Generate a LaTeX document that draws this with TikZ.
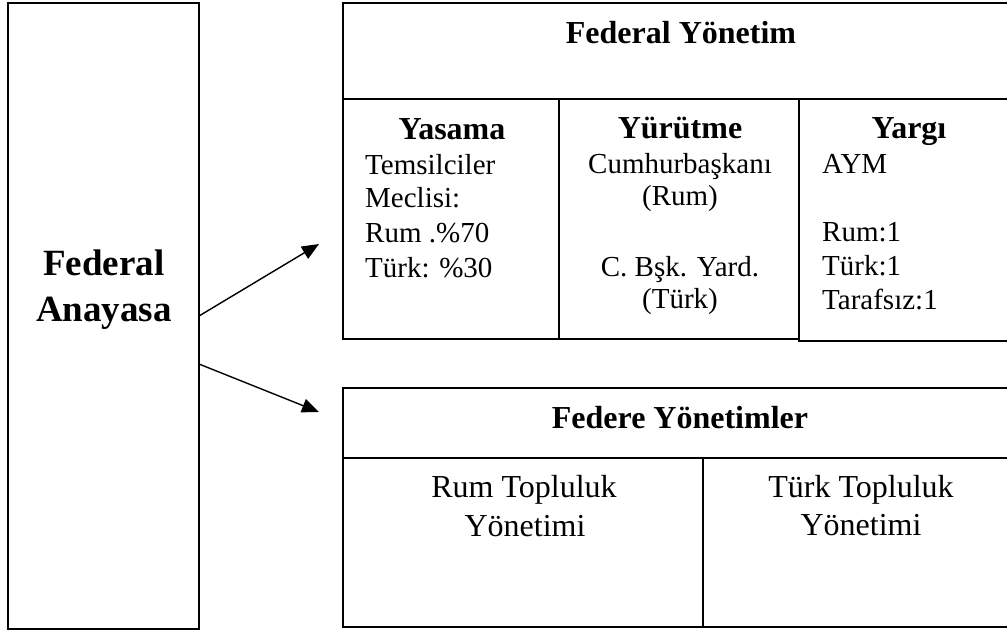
\documentclass[tikz,border=0pt]{standalone}
\usepackage{fontspec}
\setmainfont{Liberation Serif}
\usetikzlibrary{arrows.meta,calc}
\begin{document}
\begin{tikzpicture}[x=1pt,y=-1pt,
 cell/.style={draw, line width=1.8pt, inner sep=0pt, outer sep=0pt, anchor=north west},
 bigb/.style={font=\fontsize{37}{44}\selectfont\bfseries, inner sep=0pt, anchor=base},
 hd/.style={font=\fontsize{32}{38}\selectfont\bfseries, inner sep=0pt, anchor=base},
 tx/.style={font=\fontsize{29}{34}\selectfont, inner sep=0pt, anchor=base west},
 tc/.style={font=\fontsize{29}{34}\selectfont, inner sep=0pt, anchor=base},
 bt/.style={font=\fontsize{32}{38}\selectfont, inner sep=0pt, anchor=base},
 arr/.style={line width=1.4pt, -{Triangle[length=17pt,width=14pt]}}]
\useasboundingbox (0,0) rectangle (1007,632);
\clip (0,0) rectangle (1007,632);

% left box
\node[cell, minimum width=191pt, minimum height=626pt] (lb) at (8,3) {};
\node[bigb] (fa1) at (104,275) {Federal};
\node[bigb] (fa2) at (104,321) {Anayasa};

% federal government
\node[cell, minimum width=676pt, minimum height=96pt] (fy) at (343,3) {};
\node[cell, minimum width=216pt, minimum height=240pt] (ys) at (343,99) {};
\node[cell, minimum width=240pt, minimum height=240pt] (yr) at (559,99) {};
\node[cell, minimum width=220pt, minimum height=242pt] (yg) at (799,99) {};

\node[hd] (fyt) at (681,43) {Federal Yönetim};

\node[hd] (yst) at (452,139) {Yasama};
\node[tx] (ys1) at (365,174) {Temsilciler};
\node[tx] (ys2) at (365,207) {Meclisi:};
\node[tx] (ys3) at (365,242) {Rum .\%70};
\node[tx] (ys4) at (365,277) {Türk: \%30};

\node[hd] (yrt) at (680,138) {Yürütme};
\node[tc] (yr1) at (680,173) {Cumhurbaşkanı};
\node[tc] (yr2) at (680,205) {(Rum)};
\node[tc] (yr3) at (680,276) {C. Bşk. Yard.};
\node[tc] (yr4) at (680,308) {(Türk)};

\node[hd] (ygt) at (909,138) {Yargı};
\node[tx] (yg1) at (822,173) {AYM};
\node[tx] (yg2) at (822,241) {Rum:1};
\node[tx] (yg3) at (822,275) {Türk:1};
\node[tx] (yg4) at (822,309) {Tarafsız:1};

% federated governments
\node[cell, minimum width=676pt, minimum height=70pt] (fd) at (343,388) {};
\node[cell, minimum width=360pt, minimum height=169pt] (rt) at (343,458) {};
\node[cell, minimum width=316pt, minimum height=169pt] (tt) at (703,458) {};

\node[hd] (fdt) at (680,428) {Federe Yönetimler};
\node[bt] (rt1) at (524,497) {Rum Topluluk};
\node[bt] (rt2) at (525,536) {Yönetimi};
\node[bt] (tt1) at (861,497) {Türk Topluluk};
\node[bt] (tt2) at (861,535) {Yönetimi};

% arrows
\coordinate (t1) at (319,244);
\coordinate (s2) at ($(lb.east)+(0,48)$);
\coordinate (t2) at (319,412);
\draw[arr] (lb.east) -- (t1);
\draw[arr] (s2) -- (t2);
\end{tikzpicture}
\end{document}
